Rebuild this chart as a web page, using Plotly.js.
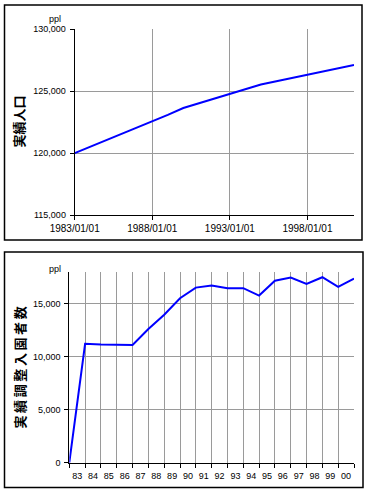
<!DOCTYPE html>
<html>
<head>
<meta charset="utf-8">
<script src="https://cdn.plot.ly/plotly-3.0.1.min.js"></script>
<style>
html,body{margin:0;padding:0;background:#fff;}
#chart{width:367px;height:492px;}
</style>
</head>
<body>
<div id="chart"></div>
<script>
// Top chart: 実績人口 (ppl)
const popDates = ['1983-01-01','1984-01-01','1985-01-01','1986-01-01','1987-01-01','1988-01-01','1989-01-01','1990-01-01','1991-01-01','1992-01-01','1993-01-01','1994-01-01','1995-01-01','1996-01-01','1997-01-01','1998-01-01','1999-01-01','2000-01-01','2001-01-01'];
const popValues = [120000,120510,121010,121520,122030,122540,123090,123640,124010,124380,124760,125150,125540,125810,126080,126340,126600,126860,127110];

// Bottom chart: 実績調整入園者数 (ppl)
const visitDates = ['1983-01-01','1984-01-01','1985-01-01','1986-01-01','1987-01-01','1988-01-01','1989-01-01','1990-01-01','1991-01-01','1992-01-01','1993-01-01','1994-01-01','1995-01-01','1996-01-01','1997-01-01','1998-01-01','1999-01-01','2000-01-01','2001-01-01'];
const visitValues = [0,11200,11130,11100,11100,12600,13950,15500,16500,16700,16450,16450,15750,17150,17450,16850,17480,16570,17350];

const topTitle = '実績人口';
const bottomTitle = '実績調整入園者数';
const unitLabel = 'ppl';

const W = 367, H = 492;
const px = v => v / W;
const py = v => 1 - v / H;

const tickFont = {family: 'Liberation Sans, Arial, sans-serif', size: 9, color: '#000'};
const gridColor = '#9a9a9a';

const traces = [
  {x: popDates, y: popValues, type: 'scatter', mode: 'lines',
   line: {color: '#0000ff', width: 2}, xaxis: 'x', yaxis: 'y', hoverinfo: 'skip'},
  {x: visitDates, y: visitValues, type: 'scatter', mode: 'lines',
   line: {color: '#0000ff', width: 2}, xaxis: 'x2', yaxis: 'y2', hoverinfo: 'skip'}
];

const layout = {
  width: W, height: H,
  margin: {l: 0, r: 0, t: 0, b: 0},
  paper_bgcolor: '#fff', plot_bgcolor: '#fff',
  showlegend: false,
  xaxis: {
    type: 'date', domain: [px(74.7), px(354)], anchor: 'y',
    range: ['1983-01-01', '2001-01-01'],
    tick0: '1983-01-01', dtick: 'M60', tickformat: '%Y/%m/%d',
    showgrid: true, gridcolor: gridColor, gridwidth: 1,
    showline: true, linecolor: '#000', linewidth: 1,
    ticks: 'outside', ticklen: 4, tickcolor: '#000',
    tickfont: {family: 'Liberation Sans, Arial, sans-serif', size: 10, color: '#000'},
    zeroline: false, fixedrange: true
  },
  yaxis: {
    domain: [py(215), py(29.3)], anchor: 'x',
    range: [115000, 130000], dtick: 5000, tickformat: ',d',
    showgrid: true, gridcolor: gridColor, gridwidth: 1,
    showline: true, linecolor: '#000', linewidth: 1,
    ticks: 'outside', ticklen: 4, tickcolor: '#000', ticklabelstandoff: 2,
    tickfont: tickFont, zeroline: false, fixedrange: true
  },
  xaxis2: {
    type: 'date', domain: [px(69.3), px(354)], anchor: 'y2',
    range: ['1983-01-01', '2001-01-01'],
    tick0: '1983-01-01', dtick: 'M12', tickformat: '%y', ticklabelmode: 'period',
    showgrid: true, gridcolor: gridColor, gridwidth: 1,
    showline: true, linecolor: '#000', linewidth: 1,
    ticks: 'outside', ticklen: 4, tickcolor: '#000',
    tickfont: tickFont, zeroline: false, fixedrange: true
  },
  yaxis2: {
    domain: [py(462.7), py(271.7)], anchor: 'x2',
    range: [0, 18000], dtick: 5000, tickformat: ',d',
    showgrid: true, gridcolor: gridColor, gridwidth: 1,
    showline: true, linecolor: '#000', linewidth: 1,
    ticks: 'outside', ticklen: 4, tickcolor: '#000', ticklabelstandoff: 2,
    tickfont: tickFont, zeroline: false, fixedrange: true
  },
  shapes: [
    {type: 'rect', xref: 'paper', yref: 'paper', x0: px(4.5), x1: px(362), y0: py(240), y1: py(5),
     line: {color: '#000', width: 1.5}, fillcolor: 'rgba(0,0,0,0)', layer: 'below'},
    {type: 'rect', xref: 'paper', yref: 'paper', x0: px(4.5), x1: px(363), y0: py(487.5), y1: py(252),
     line: {color: '#000', width: 1.5}, fillcolor: 'rgba(0,0,0,0)', layer: 'below'}
  ],
  annotations: [
    {text: unitLabel, xref: 'paper', yref: 'paper', x: px(55), y: py(18.5), showarrow: false,
     font: tickFont, xanchor: 'center', yanchor: 'middle'},
    {text: unitLabel, xref: 'paper', yref: 'paper', x: px(55), y: py(268.5), showarrow: false,
     font: tickFont, xanchor: 'center', yanchor: 'middle'},
    {text: '<b>' + topTitle + '</b>', xref: 'paper', yref: 'paper', x: px(18.5), y: py(122), showarrow: false,
     textangle: -90, font: {family: 'Noto Sans CJK JP, sans-serif', size: 13, color: '#000'},
     xanchor: 'center', yanchor: 'middle'},
    {text: '<b>' + bottomTitle.split('').join('\u2009') + '</b>', xref: 'paper', yref: 'paper', x: px(18.5), y: py(368), showarrow: false,
     textangle: -90, font: {family: 'Noto Sans CJK JP, sans-serif', size: 13, color: '#000'},
     xanchor: 'center', yanchor: 'middle'}
  ]
};

Plotly.newPlot('chart', traces, layout, {staticPlot: true, displayModeBar: false});
</script>
</body>
</html>
